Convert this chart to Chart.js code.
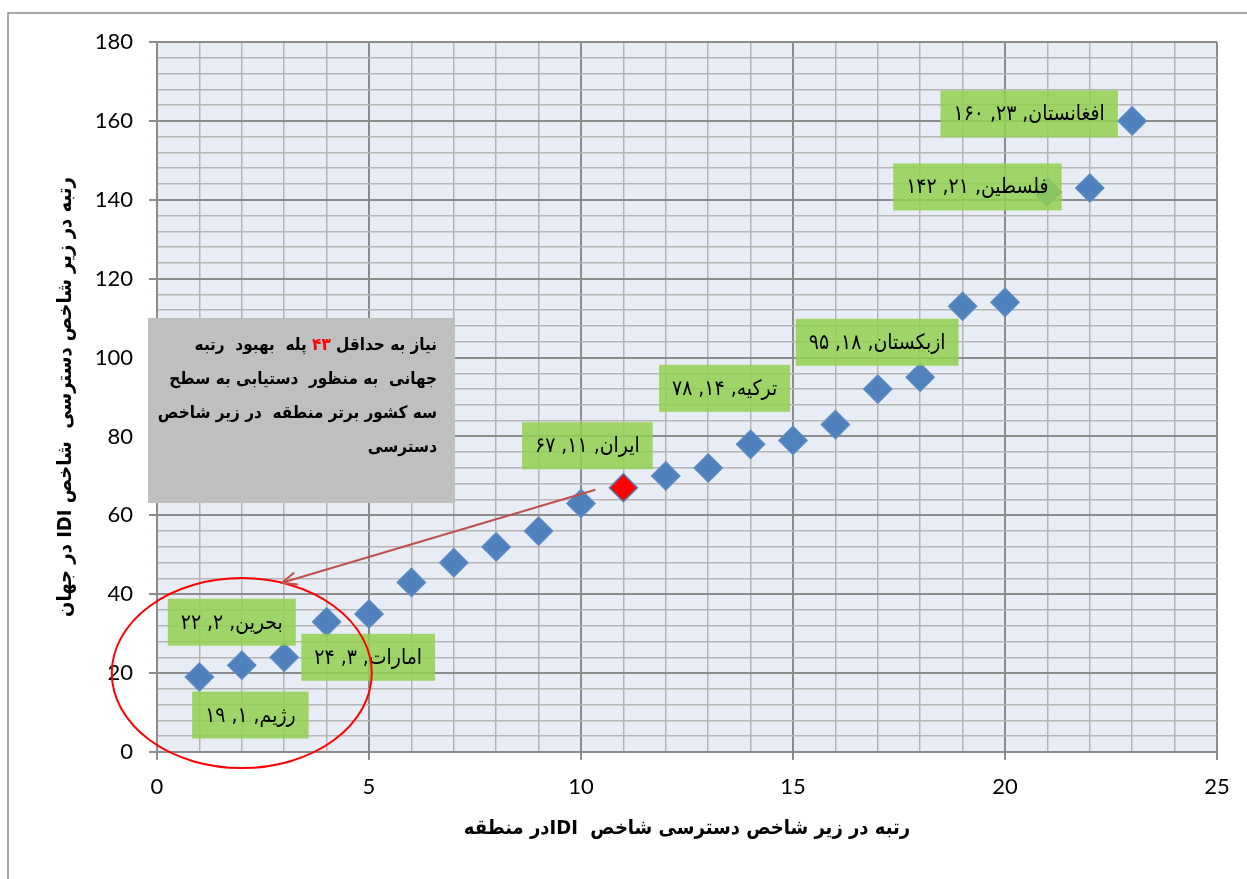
<!DOCTYPE html>
<html>
<head>
<meta charset="utf-8">
<script src="https://cdn.jsdelivr.net/npm/chart.js@4.4.1/dist/chart.umd.min.js"></script>
<style>
  html, body { margin: 0; padding: 0; background: #fff; }
  canvas { display: block; direction: rtl; }
</style>
</head>
<body>
<canvas id="chart" width="1247" height="879"></canvas>
<script>
// rank in the region (x) and world rank (y) for each country
const regionRanks = [1, 2, 3, 4, 5, 6, 7, 8, 9, 10, 11, 12, 13, 14, 15, 16, 17, 18, 19, 20, 21, 22, 23];
const worldRanks = [19, 22, 24, 33, 35, 43, 48, 52, 56, 63, 67, 70, 72, 78, 79, 83, 92, 95, 113, 114, 142, 143, 160];

// labelled points (index into the arrays above) and their names
const labelIndex = [0, 1, 2, 10, 13, 17, 20, 22];
const labelNames = ['رژیم', 'بحرین', 'امارات', 'ایران', 'ترکیه', 'ازبکستان', 'فلسطین', 'افغانستان'];
// where each label box sits relative to its point (pixels, box centre)
const labelOffsets = [[51, 38], [-10, -43], [84, 0], [-36, -42], [-26, -56], [-43, -35], [-70, -5], [-103, -7]];

// Iran is drawn in red
const highlightIndex = 10;

const xTitle = 'رتبه در زیر شاخص دسترسی شاخص  IDIدر منطقه';
const yTitle = 'رتبه در زیر شاخص دسترسی  شاخص IDI در جهان';
const noteLines = [
    ['نیاز به حداقل ', '۴۳', ' پله  بهبود  رتبه'],
    ['جهانی  به منظور  دستیابی به سطح'],
    ['سه کشور برتر منطقه  در زیر شاخص'],
    ['دسترسی']
];

const faFont = '"DejaVu Sans Condensed", "DejaVu Sans", sans-serif';

// turn latin digits into persian ones
function fa(n) {
    return String(n).replace(/\d/g, d => '۰۱۲۳۴۵۶۷۸۹'[d]);
}

const points = regionRanks.map((x, i) => ({ x: x, y: worldRanks[i] }));

// plot background + outer frame
const backgroundPlugin = {
    id: 'background',
    beforeDraw(chart) {
        const ctx = chart.ctx;
        const a = chart.chartArea;
        ctx.save();
        ctx.fillStyle = '#fff';
        ctx.fillRect(0, 0, chart.width, chart.height);
        ctx.fillStyle = '#E8ECF4';
        ctx.fillRect(a.left, a.top, a.right - a.left, a.bottom - a.top);
        ctx.strokeStyle = '#8a8a8a';
        ctx.lineWidth = 1.5;
        ctx.beginPath();
        ctx.moveTo(8, chart.height);
        ctx.lineTo(8, 13);
        ctx.lineTo(chart.width, 13);
        ctx.stroke();
        ctx.restore();
    }
};

// labels, ellipse, arrow and the grey note
const annotationPlugin = {
    id: 'annotations',
    afterDatasetsDraw(chart) {
        const ctx = chart.ctx;
        const xs = chart.scales.x;
        const ys = chart.scales.y;
        ctx.save();
        ctx.direction = 'rtl';

        // green data labels
        ctx.font = '21px ' + faFont;
        ctx.textBaseline = 'middle';
        ctx.textAlign = 'center';
        labelIndex.forEach((idx, k) => {
            const px = xs.getPixelForValue(regionRanks[idx]);
            const py = ys.getPixelForValue(worldRanks[idx]);
            const text = labelNames[k] + ', ' + fa(regionRanks[idx]) + ', ' + fa(worldRanks[idx]);
            const w = ctx.measureText(text).width + 26;
            const h = 47;
            const cx = px + labelOffsets[k][0];
            const cy = py + labelOffsets[k][1];
            ctx.fillStyle = 'rgba(146, 208, 80, 0.85)';
            ctx.fillRect(cx - w / 2, cy - h / 2, w, h);
            ctx.fillStyle = '#000';
            ctx.fillText(text, cx, cy + 1);
        });

        // red ellipse round the top three
        const ex = xs.getPixelForValue(2);
        const ey = ys.getPixelForValue(20);
        const rx = 130, ry = 95;
        ctx.strokeStyle = '#FF0000';
        ctx.lineWidth = 2;
        ctx.beginPath();
        ctx.ellipse(ex, ey, rx, ry, 0, 0, Math.PI * 2);
        ctx.stroke();

        // arrow from Iran to the ellipse
        const sx = xs.getPixelForValue(regionRanks[highlightIndex]) - 28;
        const sy = ys.getPixelForValue(worldRanks[highlightIndex]) + 2;
        const ang = -72 * Math.PI / 180;
        const tx = ex + rx * Math.cos(ang);
        const ty = ey + ry * Math.sin(ang);
        ctx.strokeStyle = '#C0504D';
        ctx.lineWidth = 2;
        ctx.beginPath();
        ctx.moveTo(sx, sy);
        ctx.lineTo(tx, ty);
        const dir = Math.atan2(sy - ty, sx - tx);
        ctx.moveTo(tx + 16 * Math.cos(dir + 0.4), ty + 16 * Math.sin(dir + 0.4));
        ctx.lineTo(tx, ty);
        ctx.lineTo(tx + 16 * Math.cos(dir - 0.4), ty + 16 * Math.sin(dir - 0.4));
        ctx.stroke();

        // grey note box
        const bx = 148, by = 318, bw = 307, bh = 185;
        ctx.fillStyle = '#BFBFBF';
        ctx.fillRect(bx, by, bw, bh);
        ctx.font = 'bold 17px ' + faFont;
        ctx.textAlign = 'right';
        ctx.textBaseline = 'middle';
        noteLines.forEach((parts, i) => {
            let x = 437;
            const y = 346 + i * 34;
            parts.forEach(p => {
                ctx.fillStyle = p === '۴۳' ? '#FF0000' : '#000';
                ctx.fillText(p, x, y);
                x -= ctx.measureText(p).width;
            });
        });
        ctx.restore();
    }
};

const ctx = document.getElementById('chart').getContext('2d');
new Chart(ctx, {
    type: 'scatter',
    data: {
        datasets: [{
            data: points,
            pointStyle: 'rectRot',
            pointRadius: 14,
            pointHoverRadius: 14,
            pointBorderWidth: 1.5,
            pointBackgroundColor: c => c.dataIndex === highlightIndex ? '#FF0000' : '#4F81BD',
            pointBorderColor: c => c.dataIndex === highlightIndex ? '#4F81BD' : '#5A8AC4'
        }]
    },
    options: {
        responsive: false,
        animation: false,
        layout: { padding: { left: 0, top: 42, right: 30, bottom: 0 } },
        plugins: {
            legend: { display: false },
            tooltip: { enabled: false }
        },
        scales: {
            x: {
                type: 'linear',
                min: 0,
                max: 25,
                afterFit: s => { s.height = 127; },
                border: { display: true, color: '#8c8c8c', width: 2 },
                grid: {
                    color: c => c.tick.value % 5 === 0 ? '#8c8c8c' : '#b5b5b5',
                    lineWidth: c => c.tick.value % 5 === 0 ? 2 : 1.5,
                    tickColor: c => c.tick.value % 5 === 0 ? '#8c8c8c' : 'rgba(0,0,0,0)',
                    tickLength: 8
                },
                ticks: {
                    stepSize: 1,
                    autoSkip: false,
                    maxRotation: 0,
                    padding: 14,
                    color: '#000',
                    font: { family: 'Lato, sans-serif', size: 22 },
                    callback: v => v % 5 === 0 ? v : ''
                },
                title: {
                    display: true,
                    text: xTitle,
                    color: '#000',
                    font: { family: faFont, size: 20, weight: 'bold' },
                    padding: { top: 0, bottom: 38 }
                }
            },
            y: {
                min: 0,
                max: 180,
                afterFit: s => { s.width = 157; },
                border: { display: true, color: '#8c8c8c', width: 2 },
                grid: {
                    color: c => c.tick.value % 20 === 0 ? '#8c8c8c' : '#b5b5b5',
                    lineWidth: c => c.tick.value % 20 === 0 ? 2 : 1.5,
                    tickColor: c => c.tick.value % 20 === 0 ? '#8c8c8c' : 'rgba(0,0,0,0)',
                    tickLength: 8
                },
                ticks: {
                    stepSize: 4,
                    autoSkip: false,
                    padding: 16,
                    color: '#000',
                    font: { family: 'Lato, sans-serif', size: 22 },
                    callback: v => v % 20 === 0 ? v : ''
                },
                title: {
                    display: true,
                    text: yTitle,
                    color: '#000',
                    font: { family: faFont, size: 20, weight: 'bold' },
                    padding: { top: 54, bottom: 0 }
                }
            }
        }
    },
    plugins: [backgroundPlugin, annotationPlugin]
});
</script>
</body>
</html>
